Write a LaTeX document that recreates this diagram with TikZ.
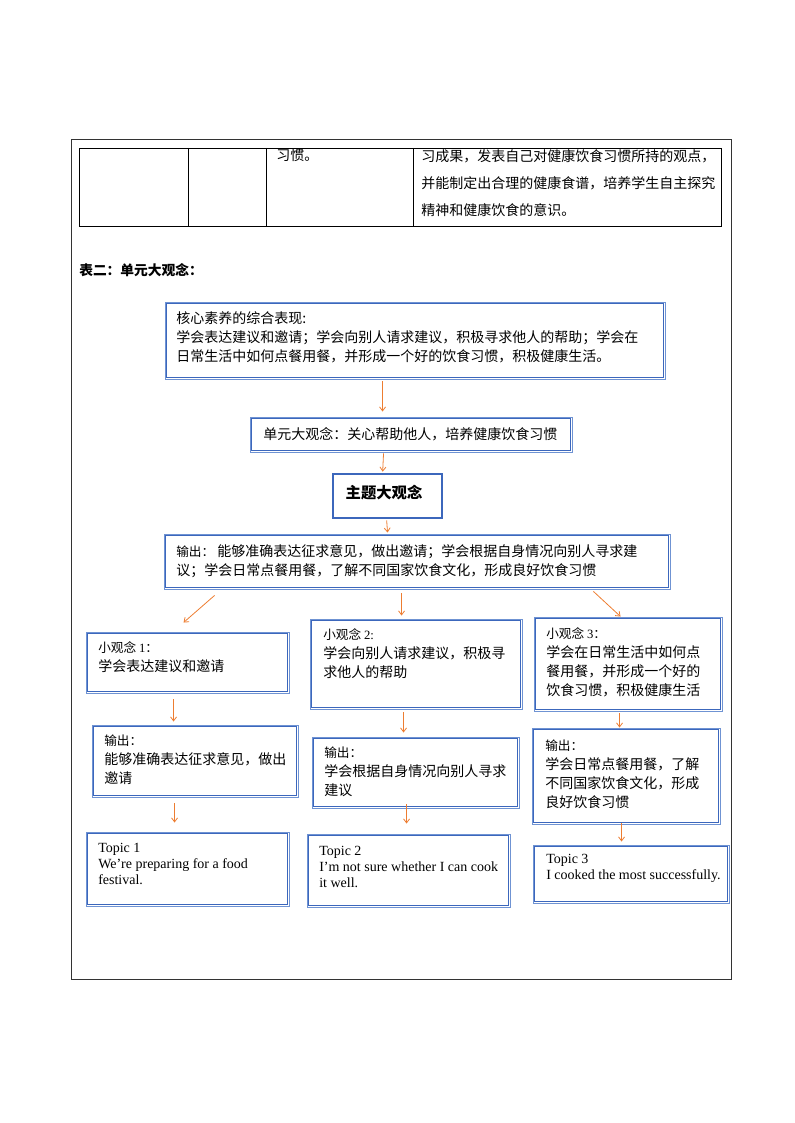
\documentclass[tikz,border=0pt]{standalone}
\usepackage{fontspec}
\setmainfont{Liberation Serif}
\newfontfamily\cjk{Noto Sans CJK SC}
\usetikzlibrary{arrows.meta,calc,fit}
\definecolor{bxblue}{HTML}{3C67BC}
\definecolor{bxlight}{HTML}{6F93D3}
\definecolor{arrorange}{HTML}{ED7D31}
\definecolor{framegray}{HTML}{333333}
\newcommand{\mylab}[1]{{\fontsize{9.5}{14.25}\selectfont #1}}
\tikzset{
  txt/.style={inner sep=0pt, anchor=north west, align=left, font=\cjk\fontsize{10.5}{14.25}\selectfont},
  tabtxt/.style={inner sep=0pt, anchor=north west, align=left, font=\cjk\fontsize{10.5}{20.25}\selectfont},
  entxt/.style={inner sep=0pt, anchor=north west, align=left, font=\fontsize{10.5}{12}\selectfont},
  outerbox/.style={draw=bxlight, line width=0.7pt, inner sep=0pt},
  innerbox/.style={draw=bxblue, line width=0.7pt},
  thickbox/.style={draw=bxblue, line width=2pt, inner sep=0pt},
  arr/.style={draw=arrorange, line width=0.6pt, -{Straight Barb[length=3pt,width=4.5pt]}},
  tabline/.style={draw=black, line width=0.6pt},
  frameline/.style={draw=framegray, line width=0.75pt}
}
\newcommand{\dblbox}[3]{%
  \node[outerbox, fit={#2 #3}] (#1) {};
  \draw[innerbox] ($(#1.north west)+(2.2,2.2)$) rectangle ($(#1.south east)+(-2.2,-2.2)$);}
\begin{document}
\begin{tikzpicture}[x=0.75pt,y=-0.75pt]
\useasboundingbox (0,0) rectangle (794,1123);
% outer frame
\draw[frameline] (71,140) rectangle (731,979);
% top table fragment
\draw[tabline] (79,148) rectangle (721,226);
\draw[tabline] (188,148) -- (188,226);
\draw[tabline] (266,148) -- (266,226);
\draw[tabline] (413,148) -- (413,226);
\node[tabtxt] (ta) at (276,148) {习惯。};
\node[tabtxt] (tb) at (421,149) {习成果，发表自己对健康饮食习惯所持的观点，\\并能制定出合理的健康食谱，培养学生自主探究\\精神和健康饮食的意识。};
% heading
\node[txt, font=\cjk\bfseries\fontsize{10.3}{12}\selectfont] (head) at (79,263) {表二：单元大观念：};
% boxes
\dblbox{b1}{(165,302)}{(665,379)}
\dblbox{b2}{(250,417)}{(572,452)}
\node[thickbox, fit={(333,474) (442,518)}] (b3) {};
\dblbox{b4}{(164,534)}{(670,589)}
\dblbox{s1}{(86,632)}{(289,693)}
\dblbox{s2}{(310,619)}{(522,709)}
\dblbox{s3}{(534,617)}{(722,711)}
\dblbox{o1}{(92,725)}{(298,797)}
\dblbox{o2}{(312,737)}{(519,808)}
\dblbox{o3}{(532,728)}{(720,824)}
\dblbox{p1}{(86,832)}{(289,906)}
\dblbox{p2}{(307,834)}{(510,907)}
\dblbox{p3}{(533,845)}{(729,903)}
% texts
\node[txt] (b1t) at (176,311) {核心素养的综合表现:\\学会表达建议和邀请；学会向别人请求建议，积极寻求他人的帮助；学会在\\日常生活中如何点餐用餐，并形成一个好的饮食习惯，积极健康生活。};
\node[txt] (b2t) at (263,427) {单元大观念：关心帮助他人，培养健康饮食习惯};
\node[inner sep=0pt, font=\cjk\bfseries\fontsize{11.5}{14}\selectfont] (b3t) at (384,493) {主题大观念};
\node[txt] (b4t) at (176,544) {\mylab{输出：} 能够准确表达征求意见，做出邀请；学会根据自身情况向别人寻求建\\议；学会日常点餐用餐，了解不同国家饮食文化，形成良好饮食习惯};
\node[txt] (s1t) at (98,641) {\mylab{小观念 {\rmfamily 1}：}\\学会表达建议和邀请};
\node[txt] (s2t) at (323,628) {\mylab{小观念 {\rmfamily 2:}}\\学会向别人请求建议，积极寻\\求他人的帮助};
\node[txt] (s3t) at (546,627) {\mylab{小观念 {\rmfamily 3}：}\\学会在日常生活中如何点\\餐用餐，并形成一个好的\\饮食习惯，积极健康生活};
\node[txt] (o1t) at (104,735) {\mylab{输出：}\\能够准确表达征求意见，做出\\邀请};
\node[txt] (o2t) at (324,747) {\mylab{输出：}\\学会根据自身情况向别人寻求\\建议};
\node[txt] (o3t) at (545,740) {\mylab{输出：}\\学会日常点餐用餐，了解\\不同国家饮食文化，形成\\良好饮食习惯};
\node[entxt] (p1t) at (98,843) {Topic 1\\We’re preparing for a food\\festival.};
\node[entxt] (p2t) at (319,846) {Topic 2\\I'm not sure whether I can cook\\it well.};
\node[entxt] (p3t) at (546,854) {Topic 3\\I cooked the most successfully.};
% arrows
\draw[arr] ($(b1.south west)+(218,2)$) -- ($(b2.north west)+(133,-5)$);
\draw[arr] ($(b2.south west)+(134,1)$) -- ($(b3.north west)+(51,-1)$);
\draw[arr] ($(b3.south west)+(55,1)$) -- ($(b4.north west)+(224,-1)$);
\draw[arr] ($(b4.south west)+(51,6)$) -- ($(s1.north west)+(98,-9)$);
\draw[arr] ($(b4.south west)+(238,4)$) -- ($(s2.north west)+(92,-3)$);
\draw[arr] ($(b4.south east)+(-77,2)$) -- ($(s3.north west)+(87,0)$);
\draw[arr] ($(s1.south west)+(88,6)$) -- ($(o1.north west)+(82,-3)$);
\draw[arr] ($(s2.south west)+(94,3)$) -- ($(o2.north west)+(92,-4)$);
\draw[arr] ($(s3.south west)+(86,2)$) -- ($(o3.north west)+(88,0)$);
\draw[arr] ($(o1.south west)+(83,6)$) -- ($(p1.north west)+(89,-9)$);
\draw[arr] ($(o2.south west)+(95,-4)$) -- ($(p2.north west)+(100,-10)$);
\draw[arr] ($(o3.south west)+(90,-1)$) -- ($(p3.north west)+(89,-3)$);
\end{tikzpicture}
\end{document}
